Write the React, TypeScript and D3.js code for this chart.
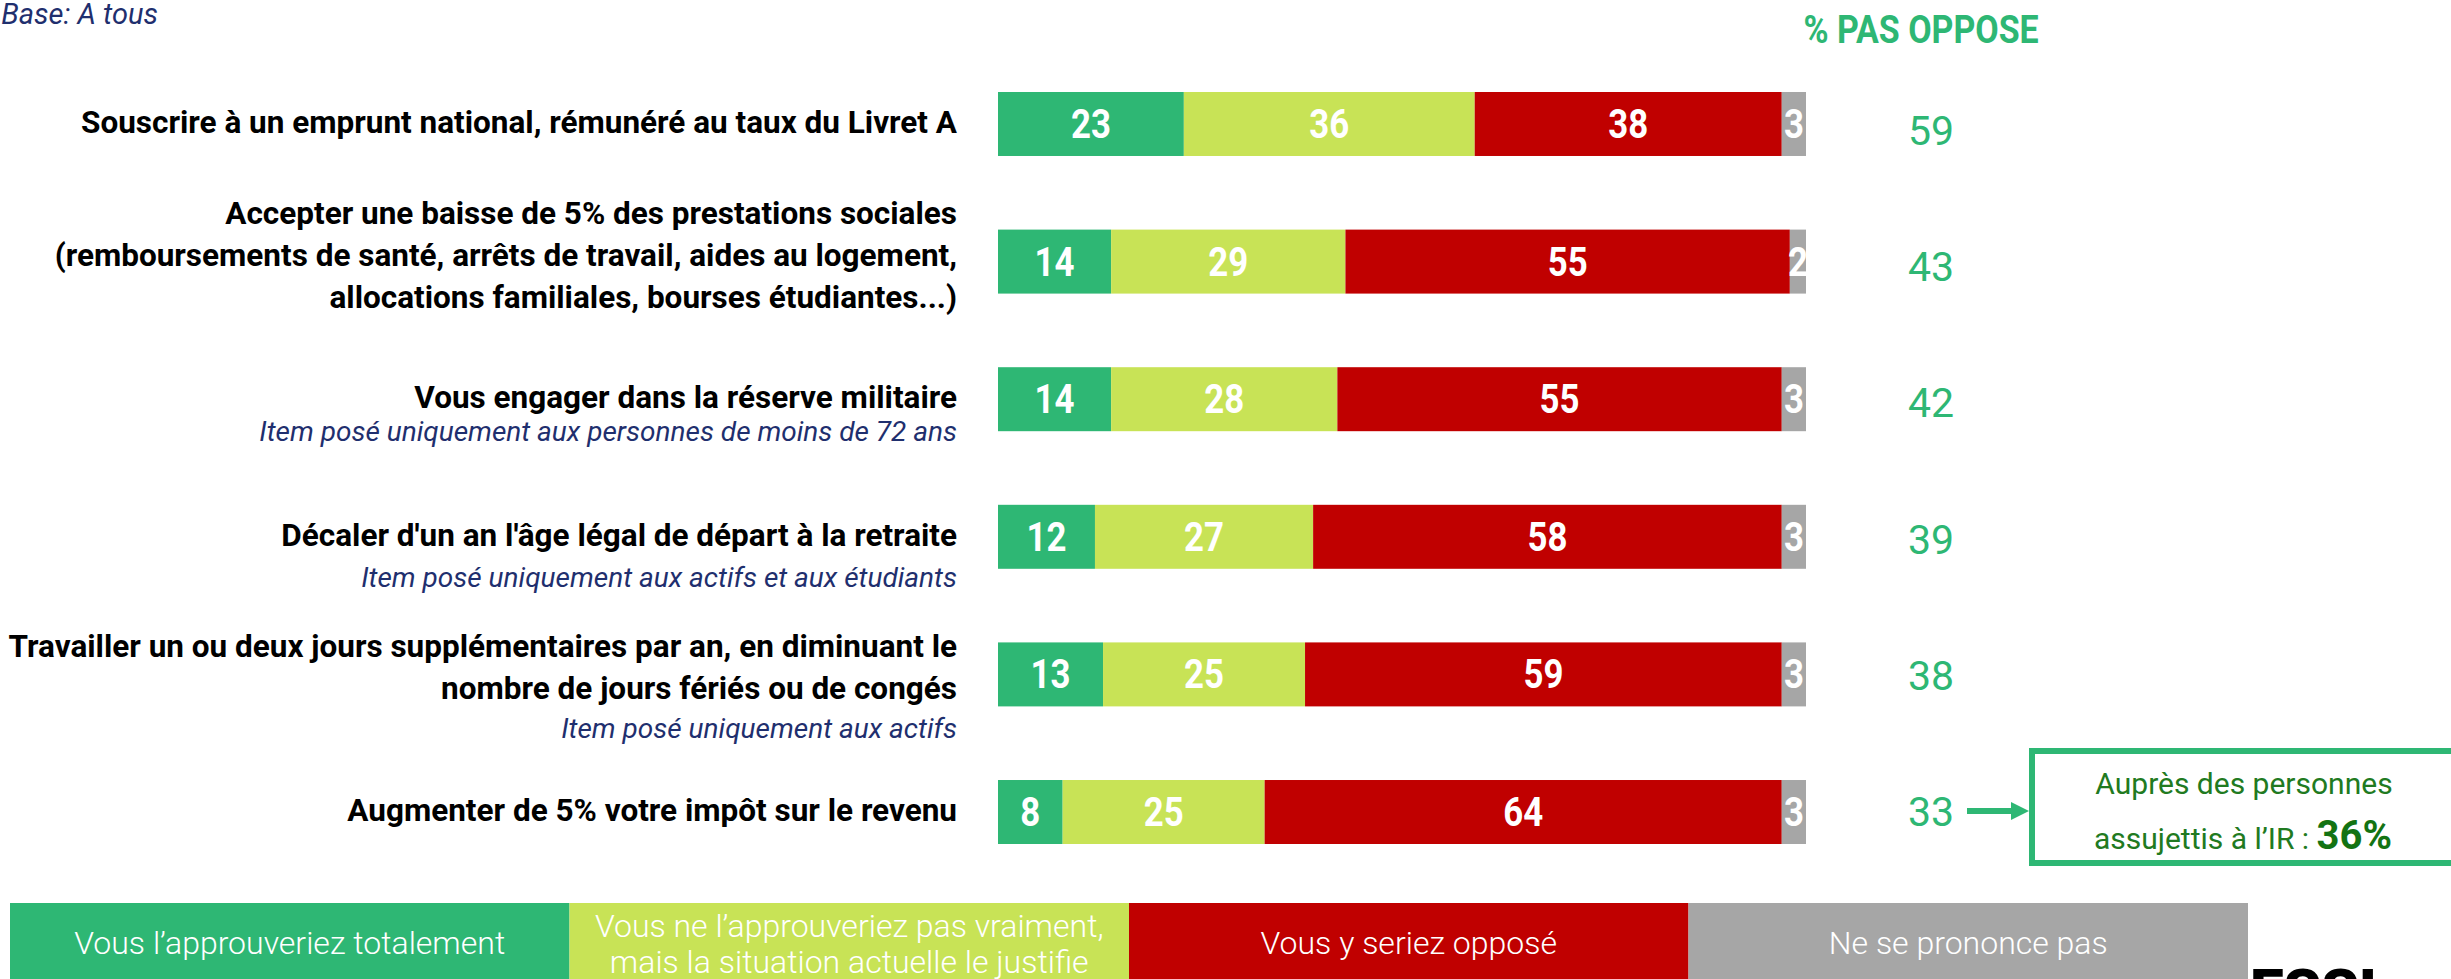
import React from "react";
import * as d3 from "d3";

// ---------- DATA ----------
const itemLines: string[][] = [
  ["Souscrire à un emprunt national, rémunéré au taux du Livret A"],
  [
    "Accepter une baisse de 5% des prestations sociales",
    "(remboursements de santé, arrêts de travail, aides au logement,",
    "allocations familiales, bourses étudiantes...)",
  ],
  ["Vous engager dans la réserve militaire"],
  ["Décaler d'un an l'âge légal de départ à la retraite"],
  [
    "Travailler un ou deux jours supplémentaires par an, en diminuant le",
    "nombre de jours fériés ou de congés",
  ],
  ["Augmenter de 5% votre impôt sur le revenu"],
];
const itemNotes: string[] = [
  "",
  "",
  "Item posé uniquement aux personnes de moins de 72 ans",
  "Item posé uniquement aux actifs et aux étudiants",
  "Item posé uniquement aux actifs",
  "",
];
const approveTotal = [23, 14, 14, 12, 13, 8];
const approveJustified = [36, 29, 28, 27, 25, 25];
const opposed = [38, 55, 55, 58, 59, 64];
const noAnswer = [3, 2, 3, 3, 3, 3];
const notOpposed = [59, 43, 42, 39, 38, 33];
const seriesNames = [
  "Vous l’approuveriez totalement",
  "Vous ne l’approuveriez pas vraiment,\nmais la situation actuelle le justifie",
  "Vous y seriez opposé",
  "Ne se prononce pas",
];
const baseText = "Base: A tous";
const colTitle = "% PAS OPPOSE";
const calloutLine1 = "Auprès des personnes";
const calloutLine2 = "assujettis à l’IR : ";
const calloutValue = "36%";

// ---------- STYLE ----------
const W = 2451;
const H = 979;
const colors = ["#2EB774", "#C8E356", "#C00000", "#A6A6A6"];
const green = "#2EB774";
const navy = "#1F2F6E";
const condense = 0.87;
const noteGap = [0, 0, 33, 41, 39, 0];

export default function App() {
  const n = itemLines.length;
  const seriesData = [approveTotal, approveJustified, opposed, noAnswer];
  const x = d3.scaleLinear().domain([0, 100]).range([998, 1806]);
  const y = d3
    .scaleBand<number>()
    .domain(d3.range(n))
    .range([92, 844])
    .paddingInner(0.535)
    .paddingOuter(0);
  const yRight = d3.scalePoint<number>().domain(d3.range(n)).range([130, 811]);
  const legendX = d3
    .scaleBand<number>()
    .domain(d3.range(seriesNames.length))
    .range([10, 2248]);

  const rows = d3.range(n).map((i) => {
    let acc = 0;
    return seriesData.map((s, k) => {
      const v = s[i];
      const seg = { k, v, x0: acc, x1: acc + v };
      acc += v;
      return seg;
    });
  });

  const bw = y.bandwidth();
  const labelRight = 957;
  const lineH = 42;

  return (
    <svg
      width={W}
      height={H}
      style={{ position: "absolute", left: 0, top: 0, background: "#fff" }}
      fontFamily="Roboto, 'Open Sans', sans-serif"
    >
      <defs>
        <clipPath id="barclip">
          <rect x={x(0)} y={0} width={x(100) - x(0)} height={H} />
        </clipPath>
      </defs>

      {/* Base text */}
      <text
        x={158}
        y={24}
        textAnchor="end"
        fontStyle="italic"
        fontSize={29}
        fill={navy}
      >
        {baseText}
      </text>

      {/* Column title */}
      <g transform={`translate(1921,43) scale(${condense},1)`}>
        <text textAnchor="middle" fontWeight={700} fontSize={39} fill={green}>
          {colTitle}
        </text>
      </g>

      {/* Item labels */}
      {itemLines.map((lines, i) => {
        const c = (y(i) as number) + bw / 2;
        const first =
          c + 9 - ((lines.length - 1) * lineH) / 2 - (lines.length > 1 ? 5 : 0);
        const last = first + (lines.length - 1) * lineH;
        return (
          <g key={"lab" + i}>
            {lines.map((ln, j) => (
              <text
                key={j}
                x={labelRight}
                y={first + j * lineH}
                textAnchor="end"
                fontWeight={700}
                fontSize={31.5}
                fill="#000"
              >
                {ln}
              </text>
            ))}
            {itemNotes[i] && (
              <text
                x={labelRight}
                y={last + noteGap[i]}
                textAnchor="end"
                fontStyle="italic"
                fontSize={28}
                fill={navy}
              >
                {itemNotes[i]}
              </text>
            )}
          </g>
        );
      })}

      {/* Bars */}
      {rows.map((segs, i) => (
        <g key={"bar" + i}>
          {segs.map((s) => (
            <rect
              key={s.k}
              x={x(s.x0)}
              y={y(i)}
              width={x(s.x1) - x(s.x0)}
              height={bw}
              fill={colors[s.k]}
            />
          ))}
          <g clipPath="url(#barclip)">
            {segs.map((s) => (
              <g
                key={"t" + s.k}
                transform={`translate(${(x(s.x0) + x(s.x1)) / 2},${(y(i) as number) + bw / 2 + 14}) scale(${condense},1)`}
              >
                <text textAnchor="middle" fontWeight={700} fontSize={40} fill="#fff">
                  {s.v}
                </text>
              </g>
            ))}
          </g>
        </g>
      ))}

      {/* Not opposed column */}
      {notOpposed.map((v, i) => (
        <text
          key={"no" + i}
          x={1931}
          y={(yRight(i) as number) + 15}
          textAnchor="middle"
          fontSize={41}
          fill={green}
        >
          {v}
        </text>
      ))}

      {/* Arrow + callout */}
      <line x1={1967} x2={2014} y1={811} y2={811} stroke={green} strokeWidth={6} />
      <polygon points="2011,802 2029,811 2011,820" fill={green} />
      <rect
        x={2032}
        y={751}
        width={460}
        height={112}
        fill="#fff"
        stroke={green}
        strokeWidth={6}
      />
      <text x={2244} y={794} textAnchor="middle" fontSize={30} fill="#217A21">
        {calloutLine1}
      </text>
      <text x={2243} y={849} textAnchor="middle" fontSize={30} fill="#217A21">
        {calloutLine2}
        <tspan fontWeight={700} fontSize={40} fill="#137313">
          {calloutValue}
        </tspan>
      </text>

      {/* Legend */}
      {seriesNames.map((name, k) => {
        const lx = legendX(k) as number;
        const lw = legendX.bandwidth();
        const parts = name.split("\n");
        const baselines = parts.length === 1 ? [954] : [937, 973];
        return (
          <g key={"lg" + k}>
            <rect x={lx} y={903} width={lw} height={H - 903} fill={colors[k]} />
            {parts.map((p, j) => (
              <text
                key={j}
                x={lx + lw / 2}
                y={baselines[j]}
                textAnchor="middle"
                fontSize={32}
                fontWeight={300}
                fill="#fff"
              >
                {p}
              </text>
            ))}
          </g>
        );
      })}

      {/* Logo fragment (cut off at bottom) */}
      <text x={2250} y={1011} fontSize={60} fontWeight={900} fill="#000">
        ESSI
      </text>
    </svg>
  );
}
